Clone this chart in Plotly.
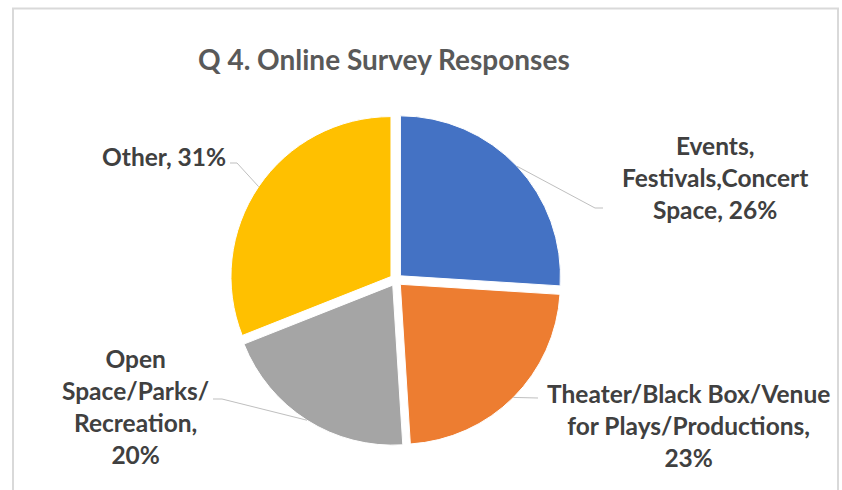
import math
import plotly.graph_objects as go

# Survey data
categories = [
    "Events, Festivals,Concert Space",
    "Theater/Black Box/Venue for Plays/Productions",
    "Open Space/Parks/Recreation",
    "Other",
]
shares = [26, 23, 20, 31]
label_lines = [
    ["Events,", "Festivals,Concert", "Space, 26%"],
    ["Theater/Black Box/Venue", "for Plays/Productions,", "23%"],
    ["Open", "Space/Parks/", "Recreation,", "20%"],
    ["Other, 31%"],
]
colors = ["#4472C4", "#ED7D31", "#A5A5A5", "#FFC000"]

W, H = 842, 490
FONT = "Lato"
TEXT_COLOR = "#404040"

# Pie geometry in pixels
CX, CY, R = 396, 280, 160
PULL = 0.038
half = R * (1 + PULL)


def px(x):
    return x / W


def py(y):
    return 1 - y / H


fig = go.Figure(
    go.Pie(
        labels=categories,
        values=shares,
        sort=False,
        direction="clockwise",
        rotation=0,
        pull=[PULL] * len(shares),
        marker=dict(colors=colors, line=dict(color="white", width=1)),
        textinfo="none",
        hoverinfo="label+percent",
        showlegend=False,
        domain=dict(x=[px(CX - half), px(CX + half)], y=[py(CY + half), py(CY - half)]),
    )
)

# Label placement: (text centre x, text centre y, elbow x, elbow y, line end x)
label_pos = [
    (715, 177, 595, 208, 603),
    (688, 425, 538, 398, 538),
    (135, 406, 222, 399, 213),
    (164, 156, 237, 163, 230),
]

shapes = [
    # chart frame
    dict(type="rect", xref="paper", yref="paper",
         x0=px(13), x1=px(838), y0=py(8.5), y1=-0.2,
         line=dict(color="#D9D9D9", width=2), fillcolor="rgba(0,0,0,0)", layer="below"),
]
annotations = []

total = sum(shares)
cum = 0
for i, v in enumerate(shares):
    mid = (cum + v / 2) / total * 2 * math.pi
    cum += v
    edge_r = R * (1 + PULL)
    sx = CX + edge_r * math.sin(mid)
    sy = CY - edge_r * math.cos(mid)
    tx, ty, ex, ey, lx = label_pos[i]
    shapes.append(dict(type="path", xref="paper", yref="paper",
                       path=f"M {px(sx)},{py(sy)} L {px(ex)},{py(ey)} L {px(lx)},{py(ey)}",
                       line=dict(color="#BFBFBF", width=1)))
    annotations.append(dict(
        x=px(tx), y=py(ty), xref="paper", yref="paper",
        text="<br>".join(label_lines[i]), showarrow=False,
        xanchor="center", yanchor="middle", align="center",
        font=dict(family=FONT, size=24.5, color=TEXT_COLOR, weight="bold"),
    ))

annotations.append(dict(
    x=px(384), y=py(59), xref="paper", yref="paper",
    text="Q 4. Online Survey Responses", showarrow=False,
    xanchor="center", yanchor="middle",
    font=dict(family=FONT, size=28, color="#595959", weight="bold"),
))

fig.update_layout(
    width=W, height=H,
    margin=dict(l=0, r=0, t=0, b=0),
    paper_bgcolor="white",
    plot_bgcolor="white",
    shapes=shapes,
    annotations=annotations,
)

fig.write_html("out.html")
